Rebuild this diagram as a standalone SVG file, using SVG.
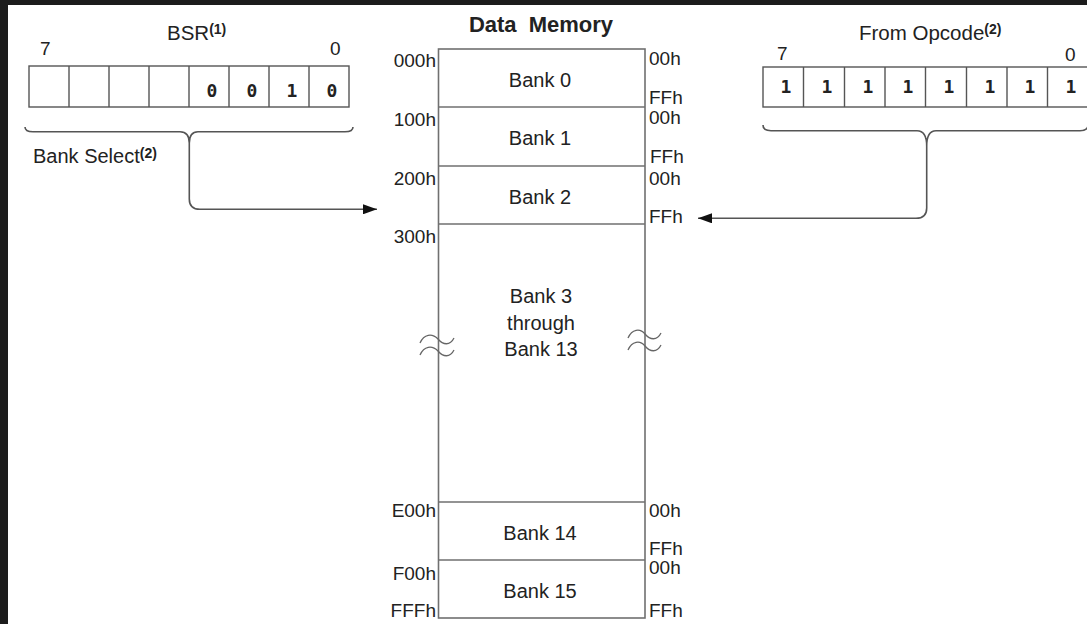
<svg xmlns="http://www.w3.org/2000/svg" width="1087" height="624" viewBox="0 0 1087 624">
<style>
.t{font-family:"Liberation Sans",Arial,sans-serif;fill:#222;font-size:19px}
.b{font-size:20px}
.h{font-size:20.5px}
.sup{font-size:14px;font-weight:bold}
.d{font-family:"DejaVu Sans Mono","Liberation Mono",monospace;font-weight:bold;font-size:18px;fill:#222;text-anchor:middle}
.e{text-anchor:end}
.m{text-anchor:middle}
.ln{stroke:#707070;stroke-width:1.6;fill:none}
.rg{stroke:#555;stroke-width:1.4;fill:#fff}
.cn{stroke:#555;stroke-width:1.6;fill:none}
.sq{stroke:#666;stroke-width:1.3;fill:none}
</style>
<defs>
<marker id="ah" viewBox="0 0 14 10" refX="14" refY="5" markerWidth="14" markerHeight="10" markerUnits="userSpaceOnUse" orient="auto">
<path d="M0,0 L14,5 L0,10 Z" fill="#111"/>
</marker>
</defs>
<rect x="0" y="0" width="1087" height="624" fill="#1c1c1c"/>
<rect x="8" y="5" width="1079" height="619" fill="#fff"/>

<g id="bsr">
<text class="t h" x="167" y="40">BSR<tspan class="sup" dy="-6">(1)</tspan></text>
<text class="t" x="40" y="55">7</text>
<text class="t" x="330" y="55">0</text>
<rect class="rg" x="29" y="66" width="320" height="41"/>
<path class="rg" d="M69,66V107M109,66V107M149,66V107M189,66V107M229,66V107M269,66V107M309,66V107"/>
<text class="d" x="212" y="97">0</text>
<text class="d" x="252" y="97">0</text>
<text class="d" x="292" y="97">1</text>
<text class="d" x="332" y="97">0</text>
<text class="t b" x="33" y="163">Bank Select<tspan class="sup" dy="-5">(2)</tspan></text>
</g>

<g id="opcode">
<text class="t h" x="859" y="40">From Opcode<tspan class="sup" dy="-6">(2)</tspan></text>
<text class="t" x="777" y="60">7</text>
<text class="t" x="1065" y="61">0</text>
<rect class="rg" x="763" y="67" width="325" height="40"/>
<path class="rg" d="M803.5,67V107M844.5,67V107M885,67V107M925.5,67V107M966.5,67V107M1007,67V107M1047.5,67V107"/>
<text class="d" x="786" y="93">1</text>
<text class="d" x="827" y="93">1</text>
<text class="d" x="868" y="93">1</text>
<text class="d" x="908" y="93">1</text>
<text class="d" x="949" y="93">1</text>
<text class="d" x="990" y="93">1</text>
<text class="d" x="1030" y="93">1</text>
<text class="d" x="1071" y="93">1</text>
</g>

<g id="memory">
<text class="t m" x="541" y="32" style="font-weight:bold;font-size:22px;word-spacing:6px">Data Memory</text>
<rect class="ln" x="438.5" y="49" width="206.5" height="569"/>
<path class="ln" d="M438.5,107H645M438.5,166H645M438.5,224H645M438.5,502H645M438.5,560H645"/>
<path class="sq" d="M420,343 C424,334 432,333 438,339 C443,345 450,346 454,338 M420,355 C424,346 432,345 438,351 C443,357 450,358 454,350"/>
<path class="sq" d="M628,338 C632,329 640,328 645,334 C650,340 657,341 661,333 M628,350 C632,341 640,340 645,346 C650,352 657,353 661,345"/>
<text class="t b m" x="540" y="87">Bank 0</text>
<text class="t b m" x="540" y="145">Bank 1</text>
<text class="t b m" x="540" y="204">Bank 2</text>
<text class="t b m" x="541" y="303">Bank 3</text>
<text class="t b m" x="541" y="330">through</text>
<text class="t b m" x="541" y="356">Bank 13</text>
<text class="t b m" x="540" y="540">Bank 14</text>
<text class="t b m" x="540" y="598">Bank 15</text>
<text class="t e" x="436" y="67">000h</text>
<text class="t e" x="436" y="126">100h</text>
<text class="t e" x="436" y="185">200h</text>
<text class="t e" x="436" y="243">300h</text>
<text class="t e" x="436" y="517">E00h</text>
<text class="t e" x="436" y="580">F00h</text>
<text class="t e" x="436" y="617">FFFh</text>
<text class="t" x="649" y="65">00h</text>
<text class="t" x="649" y="104">FFh</text>
<text class="t" x="649" y="124">00h</text>
<text class="t" x="650" y="163">FFh</text>
<text class="t" x="649" y="185">00h</text>
<text class="t" x="649" y="223">FFh</text>
<text class="t" x="649" y="517">00h</text>
<text class="t" x="649" y="555">FFh</text>
<text class="t" x="649" y="574">00h</text>
<text class="t" x="649" y="617">FFh</text>
</g>

<g id="connectors">
<path class="cn" d="M25,127 Q25,131.7 33,131.7 L180,131.7 Q189.3,131.7 189.3,143 Q189.3,131.7 198,131.7 L345,131.7 Q353,131.7 353,127"/>
<path class="cn" d="M189.3,143 L189.3,199 Q189.3,209.3 200,209.3 L377,209.3" marker-end="url(#ah)"/>
<path class="cn" d="M763,125 Q763,130.7 771,130.7 L917,130.7 Q926.7,130.7 926.7,146 Q926.7,130.7 936,130.7 L1080,130.7 Q1088,130.7 1088,125"/>
<path class="cn" d="M926.7,146 L926.7,208 Q926.7,218.3 916,218.3 L698,218.3" marker-end="url(#ah)"/>
</g>
</svg>
